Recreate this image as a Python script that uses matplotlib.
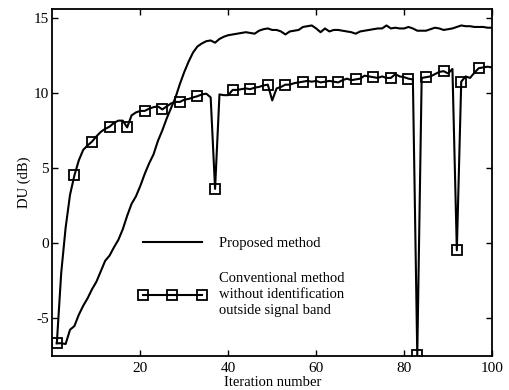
import numpy as np
import matplotlib
matplotlib.use("Agg")
import matplotlib.pyplot as plt

plt.rcParams['font.family'] = ['Liberation Serif', 'DejaVu Serif']
plt.rcParams['axes.unicode_minus'] = False

# iteration index
iterations = list(range(1, 101))

# proposed method, DU (dB)
proposed = [
    -6.7, -6.7, -6.75, -5.8, -5.55, -4.8, -4.2, -3.7, -3.1, -2.6,
    -1.9, -1.2, -0.85, -0.3, 0.2, 0.9, 1.8, 2.6, 3.1, 3.8,
    4.6, 5.3, 5.9, 6.8, 7.5, 8.3, 9.0, 9.7, 10.6, 11.4,
    12.1, 12.7, 13.1, 13.3, 13.45, 13.5, 13.35, 13.6, 13.75, 13.85,
    13.9, 13.95, 14.0, 14.05, 14.0, 13.95, 14.15, 14.25, 14.3, 14.2,
    14.2, 14.1, 13.9, 14.1, 14.15, 14.2, 14.4, 14.45, 14.5, 14.3,
    14.05, 14.3, 14.1, 14.2, 14.2, 14.15, 14.1, 14.05, 13.95, 14.1,
    14.15, 14.2, 14.25, 14.3, 14.3, 14.5, 14.3, 14.35, 14.3, 14.3,
    14.4, 14.3, 14.15, 14.15, 14.15, 14.25, 14.35, 14.3, 14.2, 14.25,
    14.3, 14.4, 14.5, 14.45, 14.45, 14.4, 14.4, 14.4, 14.35, 14.35,
]

# conventional method without identification outside signal band
conventional = [
    -6.7, -2.0, 1.0, 3.2, 4.5, 5.5, 6.2, 6.5, 6.75, 7.1,
    7.4, 7.6, 7.75, 8.0, 8.15, 8.15, 7.7, 8.5, 8.7, 8.8,
    8.8, 8.95, 9.05, 9.1, 8.9, 9.1, 9.3, 9.4, 9.4, 9.55,
    9.6, 9.7, 9.78, 9.9, 9.95, 9.7, 3.6, 9.9, 9.85, 9.85,
    10.2, 10.2, 10.25, 10.3, 10.25, 10.35, 10.4, 10.5, 10.55, 9.5,
    10.3, 10.4, 10.55, 10.55, 10.65, 10.7, 10.75, 10.8, 10.75, 10.8,
    10.7, 10.75, 10.8, 10.75, 10.7, 10.85, 10.95, 10.85, 10.9, 10.95,
    11.15, 11.1, 11.05, 11.0, 11.1, 11.0, 11.0, 11.25, 11.1, 11.05,
    10.95, 10.9, -7.5, 11.0, 11.05, 11.1, 11.25, 11.4, 11.45, 11.3,
    11.6, -0.5, 10.75, 11.1, 11.0, 11.35, 11.65, 11.7, 11.75, 11.7,
]

# points that carry a square marker (0-based)
marker_idx = sorted(list(range(0, 100, 4)) + [82, 91])

fig = plt.figure(figsize=(5.09, 3.9), dpi=100)
ax = fig.add_axes([0.103, 0.0872, 0.8636, 0.8898])

ax.plot(iterations, proposed, color='black', lw=1.5, label='Proposed method')
ax.plot(iterations, conventional, color='black', lw=1.5, marker='s',
        markersize=6.5, markerfacecolor='none', markeredgecolor='black',
        markeredgewidth=1.3, markevery=marker_idx,
        label='Conventional method\nwithout identification\noutside signal band')

ax.set_xlim(0, 100)
ax.set_ylim(-7.55, 15.6)
ax.set_xticks([20, 40, 60, 80, 100])
ax.set_yticks([-5, 0, 5, 10, 15])
ax.tick_params(direction='in', top=True, right=True, length=4, width=1,
               labelsize=11)
ax.tick_params(axis='y', pad=2.5)
ax.tick_params(axis='x', pad=4.5)
for s in ax.spines.values():
    s.set_linewidth(1.3)

ax.set_xlabel('Iteration number', fontsize=10.5, labelpad=0.5)
ax.set_ylabel('DU (dB)', fontsize=10.5, labelpad=2)

leg = ax.legend(loc='upper left', bbox_to_anchor=(0.18, 0.365), frameon=False,
                fontsize=10.5, numpoints=3, handlelength=4.6, handletextpad=0.9,
                labelspacing=1.55, borderpad=0)
for t in leg.get_texts():
    t.set_linespacing(1.3)

fig.savefig('out.png', dpi=100)
